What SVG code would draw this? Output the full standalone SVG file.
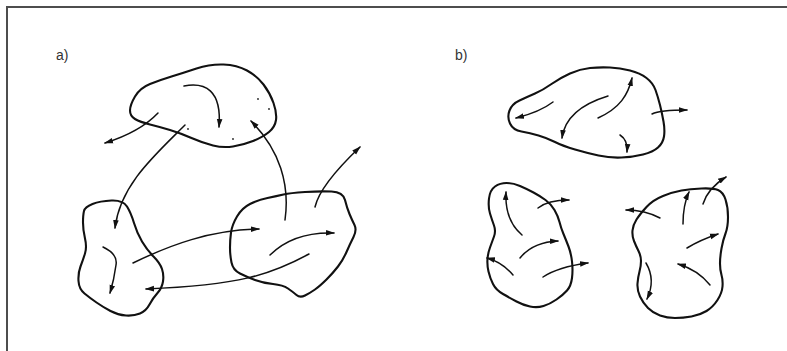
<svg xmlns="http://www.w3.org/2000/svg" width="787" height="351" viewBox="0 0 787 351">
<style>
.blob{fill:none;stroke:#111;stroke-width:2.1;stroke-linejoin:round}
.arr{fill:none;stroke:#111;stroke-width:1.5;stroke-linecap:round;marker-end:url(#ah)}
.lbl{font-family:"Liberation Sans",Arial,sans-serif;font-size:14px;fill:#333}
.dot{fill:#222}
</style>
<defs>
<marker id="ah" markerUnits="userSpaceOnUse" markerWidth="10" markerHeight="8" refX="8" refY="4" orient="auto">
<path d="M0,1.2 L9,4 L0,6.8 Z" fill="#111"/>
</marker>
</defs>
<rect width="787" height="351" fill="#fff"/>
<path d="M7,351 L7,7 L787,7" fill="none" stroke="#4d4d4d" stroke-width="2"/>
<text class="lbl" x="56" y="60">a)</text>
<text class="lbl" x="455" y="60">b)</text>

<g id="a-top">
<path class="blob" d="M130,110.5 Q130,105 135,96.5 Q140,88 150,84 Q160,80 171.5,76.5 Q183,73 196.5,68.5 Q210,64 223.5,64.5 Q237,65 247,70.5 Q257,76 263.5,84.5 Q270,93 273.5,103 Q277,113 276,120 Q275,127 269,132 Q263,137 253,141 Q243,145 233,146.5 Q223,148 213,145.5 Q203,143 191.5,138 Q180,133 170,130 Q160,127 150,124.5 Q140,122 135,119 Q130,116 130,110.5 Z"/>
<path class="arr" d="M184,86 C205,82 222,90 219,127"/>
<path class="arr" d="M158,113 Q140,132 105,143"/>
<circle class="dot" cx="258" cy="99" r="0.9"/>
<circle class="dot" cx="269" cy="109" r="0.9"/>
<circle class="dot" cx="188" cy="129" r="0.9"/>
<circle class="dot" cx="233" cy="139" r="0.9"/>
</g>

<g id="a-left">
<path class="blob" d="M84,211 Q85,207 92.5,204 Q100,201 111.5,200.5 Q123,200 127,206.5 Q131,213 134,223 Q137,233 142,241.5 Q147,250 153.5,256.5 Q160,263 162,269 Q164,275 163,281.5 Q162,288 157.5,293 Q153,298 149.5,304.5 Q146,311 140,313.5 Q134,316 126,315.5 Q118,315 110.5,311 Q103,307 96.5,302.5 Q90,298 84.5,293.5 Q79,289 78.5,281 Q78,273 80.5,266.5 Q83,260 85,253.5 Q87,247 85,238.5 Q83,230 83,222.5 Q83,215 84,211 Z"/>
<path class="arr" d="M103,247 Q118,254 116,265 Q114,280 110,293"/>
</g>

<g id="a-right">
<path class="blob" d="M231,232.5 Q232,225 237,216.5 Q242,208 250,204 Q258,200 267.5,198 Q277,196 283.5,194.5 Q290,193 305,192 Q320,191 331.5,191.5 Q343,192 345,200 Q347,208 349.5,214 Q352,220 354.5,225 Q357,230 353.5,237 Q350,244 346.5,252 Q343,260 338,266.5 Q333,273 326.5,279.5 Q320,286 315,289.5 Q310,293 305,295.5 Q300,298 296.5,295 Q293,292 288,288.5 Q283,285 273,284 Q263,283 255,280 Q247,277 240,273.5 Q233,270 231.5,262.5 Q230,255 230,247.5 Q230,240 231,232.5 Z"/>
<path class="arr" d="M270,255 C285,240 305,232 334,233"/>
<path class="arr" d="M315,207 Q320,185 360,147"/>
</g>

<g id="b-top">
<path class="blob" d="M510,123.5 Q507,117 509.5,110.5 Q512,104 519.5,100.5 Q527,97 535,93.5 Q543,90 551.5,84 Q560,78 570,73.5 Q580,69 590,68 Q600,67 610,67.5 Q620,68 630,70.5 Q640,73 646.5,78 Q653,83 655.5,90 Q658,97 660,105 Q662,113 663.5,121.5 Q665,130 664,136.5 Q663,143 658,147.5 Q653,152 643,154.5 Q633,157 621.5,157.5 Q610,158 598.5,155.5 Q587,153 575,149.5 Q563,146 555,142 Q547,138 538.5,135.5 Q530,133 521.5,131.5 Q513,130 510,123.5 Z"/>
<path class="arr" d="M553,102 Q540,112 516,118"/>
<path class="arr" d="M608,96 C585,103 565,115 562,138"/>
<path class="arr" d="M598,118 C620,108 628,95 632,78"/>
<path class="arr" d="M620,135 Q628,140 627,152"/>
<path class="arr" d="M652,114 Q660,110 687,110"/>
</g>

<g id="b-left">
<path class="blob" d="M506.5,183 Q500,183 495,186.5 Q490,190 489,198.5 Q488,207 490,213.5 Q492,220 494,225.5 Q496,231 494,236.5 Q492,242 490,247.5 Q488,253 487.5,259 Q487,265 488.5,271.5 Q490,278 493,284 Q496,290 503,294 Q510,298 516.5,301.5 Q523,305 530,306.5 Q537,308 543.5,306 Q550,304 556.5,299.5 Q563,295 567,290.5 Q571,286 572,278 Q573,270 572,261.5 Q571,253 568.5,246.5 Q566,240 563.5,234 Q561,228 559.5,222 Q558,216 554.5,210 Q551,204 545.5,200 Q540,196 533.5,192.5 Q527,189 520,186 Q513,183 506.5,183 Z"/>
<path class="arr" d="M522,235 C510,225 505,212 506,192"/>
<path class="arr" d="M538,208 Q548,200 569,200"/>
<path class="arr" d="M520,258 Q533,242 558,241"/>
<path class="arr" d="M513,275 Q502,262 487,258"/>
<path class="arr" d="M543,277 Q558,267 588,263"/>
</g>

<g id="b-right">
<path class="blob" d="M636.5,219.5 Q640,214 646.5,207 Q653,200 663,196 Q673,192 681.5,190.5 Q690,189 701.5,188.5 Q713,188 718,190 Q723,192 725.5,199.5 Q728,207 728,217 Q728,227 725.5,233.5 Q723,240 721.5,248.5 Q720,257 720,263.5 Q720,270 721.5,275 Q723,280 722.5,286.5 Q722,293 717.5,300 Q713,307 706.5,311 Q700,315 691.5,316.5 Q683,318 675,318 Q667,318 660,315.5 Q653,313 648,308 Q643,303 640,296.5 Q637,290 637.5,283.5 Q638,277 639.5,271.5 Q641,266 641,261 Q641,256 638.5,251 Q636,246 634,241 Q632,236 632.5,230.5 Q633,225 636.5,219.5 Z"/>
<path class="arr" d="M660,218 Q645,210 626,210"/>
<path class="arr" d="M683,224 Q683,205 689,192"/>
<path class="arr" d="M703,204 Q708,188 726,177"/>
<path class="arr" d="M687,248 Q700,240 718,234"/>
<path class="arr" d="M710,285 Q698,270 678,264"/>
<path class="arr" d="M646,263 Q656,280 647,299"/>
</g>

<g id="connectors">
<path class="arr" d="M185,125 C155,155 120,185 115,228"/>
<path class="arr" d="M285,220 C290,185 280,150 251,121"/>
<path class="arr" d="M133,263 C170,245 210,230 259,229"/>
<path class="arr" d="M309,254 C270,275 240,285 146,289"/>
</g>
</svg>
